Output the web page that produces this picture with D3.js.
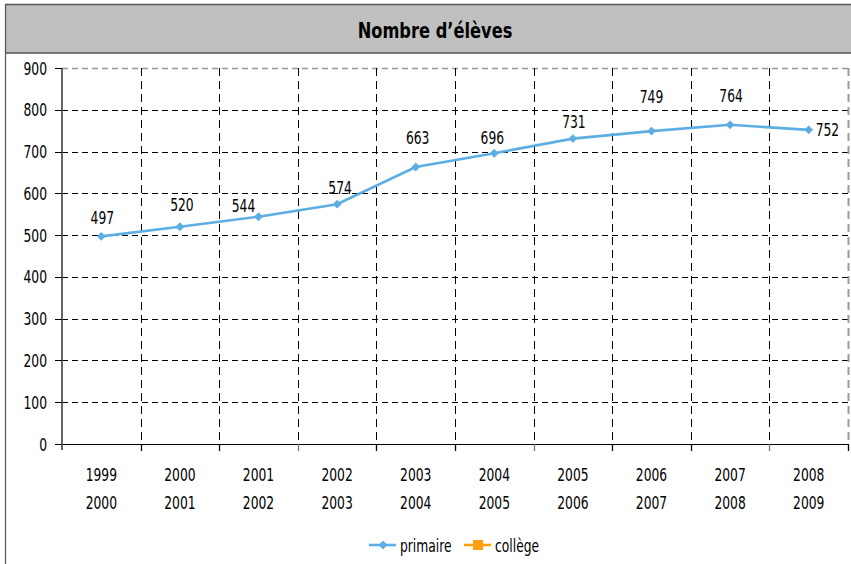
<!DOCTYPE html>
<html><head><meta charset="utf-8">
<script src="https://cdn.jsdelivr.net/npm/d3@7"></script>
<style>
html,body{margin:0;padding:0;background:#fff;}
svg{display:block;font-family:"DejaVu Sans Condensed","DejaVu Sans",sans-serif;}
</style></head><body>
<svg id="c" width="851" height="564"></svg>
<script>
const categories = [["1999","2000"],["2000","2001"],["2001","2002"],["2002","2003"],["2003","2004"],["2004","2005"],["2005","2006"],["2006","2007"],["2007","2008"],["2008","2009"]];
const primaire = [497,520,544,574,663,696,731,749,764,752];
const college = [];
const yTicks = [0,100,200,300,400,500,600,700,800,900];
const title = "Nombre d\u2019élèves";
const seriesNames = ["primaire","collège"];
// label nudges (layout only)
const labelNudgeY = [19,22,11,17,30,16,17,35,29,0];
const labelNudgeX = [1,2,-15,3,2,-2,1,0,1,0];

const blue = "#5DAEE3", orange = "#FF9E0F";
const SX = 0.74, FS = 18.5;
const svg = d3.select("#c");
const L = 62, R = 848, T = 68, B = 444;

function place(sel, fx, fy, sx) {
  sel.attr("transform", (d,i) => `translate(${fx(d,i)},${fy(d,i)}) scale(${sx||SX},1)`);
  return sel;
}

// outer frame + title band
svg.append("rect").attr("x",5).attr("y",4).attr("width",860).attr("height",49).attr("fill","#c0c0c0");
svg.append("line").attr("x1",5).attr("x2",851).attr("y1",4.5).attr("y2",4.5).attr("stroke","#555").attr("stroke-width",1.5);
svg.append("line").attr("x1",5).attr("x2",851).attr("y1",53).attr("y2",53).attr("stroke","#555").attr("stroke-width",1.5);
svg.append("line").attr("x1",5.5).attr("x2",5.5).attr("y1",4).attr("y2",564).attr("stroke","#555").attr("stroke-width",1.2);
place(svg.append("text").attr("text-anchor","middle").attr("font-size",21).attr("font-weight","bold").attr("fill","#000").text(title),
  ()=>435, ()=>38, 0.86);

const x = d3.scaleBand().domain(d3.range(categories.length)).range([L,R]).padding(0);
const y = d3.scaleLinear().domain([0,900]).range([B,T]);

// grid
const g = svg.append("g");
g.selectAll(".hg").data(yTicks.filter(d=>d>0)).join("line")
  .attr("x1",L).attr("x2",R).attr("y1",d=>Math.round(y(d))+0.5).attr("y2",d=>Math.round(y(d))+0.5)
  .attr("stroke",d=>d===900?"#999":"#000").attr("stroke-width",d=>d===900?1.5:1).attr("stroke-dasharray","6,4");
const bounds = d3.range(1,categories.length+1).map(i=> i<categories.length ? x(i) : R);
g.selectAll(".vg").data(bounds).join("line")
  .attr("x1",d=>Math.round(d)+0.5).attr("x2",d=>Math.round(d)+0.5).attr("y1",T).attr("y2",B)
  .attr("stroke",(d,i)=>i===bounds.length-1?"#999":"#000").attr("stroke-width",(d,i)=>i===bounds.length-1?2:1).attr("stroke-dasharray","8,5");

// x axis
svg.append("line").attr("x1",L).attr("x2",R).attr("y1",B+0.5).attr("y2",B+0.5).attr("stroke","#000").attr("stroke-width",1.2);
svg.selectAll(".xt").data(bounds).join("line")
  .attr("x1",d=>Math.round(d)+0.5).attr("x2",d=>Math.round(d)+0.5).attr("y1",B).attr("y2",B+7)
  .attr("stroke",(d,i)=>i%3===2?"#777":"#000").attr("stroke-width",1.3);
// y axis
svg.append("line").attr("x1",L).attr("x2",L).attr("y1",T).attr("y2",B+6).attr("stroke","#666").attr("stroke-width",2);
svg.selectAll(".yt").data(yTicks).join("line")
  .attr("x1",L-7).attr("x2",L).attr("y1",d=>Math.round(y(d))+0.5).attr("y2",d=>Math.round(y(d))+0.5).attr("stroke","#000");
place(svg.selectAll(".yl").data(yTicks).join("text")
  .attr("text-anchor","end").attr("font-size",FS).attr("fill","#000").text(d=>d),
  ()=>47, d=>y(d)+6.5);

// x labels
const cx = i => x(i)+x.bandwidth()/2;
place(svg.selectAll(".xl1").data(categories).join("text")
  .attr("text-anchor","middle").attr("font-size",FS).attr("fill","#000").text(d=>d[0]),
  (d,i)=>cx(i), ()=>481);
place(svg.selectAll(".xl2").data(categories).join("text")
  .attr("text-anchor","middle").attr("font-size",FS).attr("fill","#000").text(d=>d[1]),
  (d,i)=>cx(i), ()=>509);

// line
svg.append("path").datum(primaire).attr("fill","none").attr("stroke",blue).attr("stroke-width",2.6)
  .attr("d",d3.line().x((d,i)=>cx(i)).y(d=>y(d)));
const diamond = d3.symbol().type(d3.symbolDiamond2 || d3.symbolDiamond).size(50);
svg.selectAll(".pt").data(primaire).join("path").attr("d",diamond)
  .attr("transform",(d,i)=>`translate(${cx(i)},${y(d)})`).attr("fill",blue);
const last = primaire.length-1;
place(svg.selectAll(".lab").data(primaire).join("text")
  .attr("font-size",FS).attr("fill","#000")
  .attr("text-anchor",(d,i)=>i===last?"start":"middle").text(d=>d),
  (d,i)=>i===last?cx(i)+7:cx(i)+labelNudgeX[i],
  (d,i)=>y(d)-labelNudgeY[i]+6.5);

// legend
const lg = svg.append("g").attr("transform","translate(369,545)");
lg.append("line").attr("x1",0).attr("x2",27).attr("stroke",blue).attr("stroke-width",2.6);
lg.append("path").attr("d",diamond).attr("transform","translate(14,0)").attr("fill",blue);
place(lg.append("text").attr("font-size",FS).attr("fill","#000").text(seriesNames[0]), ()=>31, ()=>7);
lg.append("line").attr("x1",95).attr("x2",122).attr("stroke",orange).attr("stroke-width",2.6);
lg.append("rect").attr("x",104).attr("y",-5).attr("width",10).attr("height",10).attr("fill",orange);
place(lg.append("text").attr("font-size",FS).attr("fill","#000").text(seriesNames[1]), ()=>126, ()=>7);
</script>
</body></html>
